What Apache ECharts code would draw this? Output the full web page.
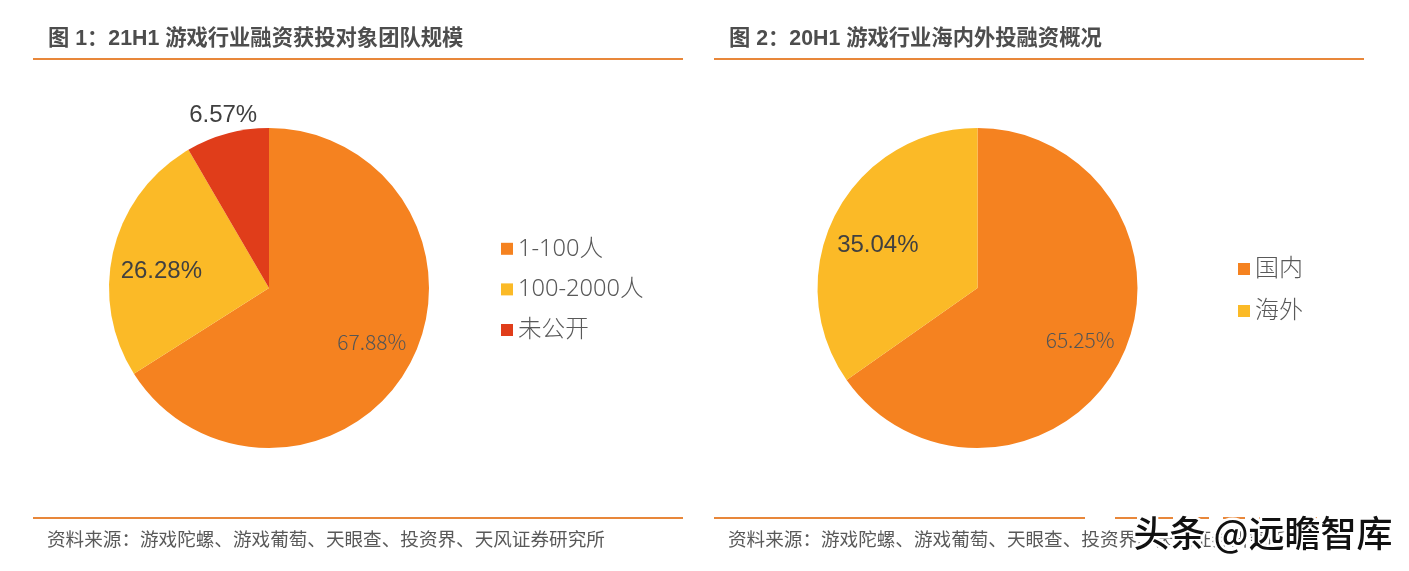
<!DOCTYPE html>
<html>
<head>
<meta charset="utf-8">
<style>
html,body{margin:0;padding:0;background:#fff}
#main{width:1409px;height:571px}
</style>
<script src="https://cdn.jsdelivr.net/npm/echarts@6/dist/echarts.min.js"></script>
</head>
<body>
<div id="main"></div>
<script>
// 图1 扇区大小按图上实际角度读取，标签是图上印的文字（两者并不完全一致）
var names1 = ['1-100人','100-2000人','未公开']
var values1 = [66.0,25.6,8.4]
var labels1 = ['67.88%','26.28%','6.57%']
var names2 = ['国内','海外']
var values2 = [65.25,34.75]
var labels2 = ['65.25%','35.04%']
var titles = ['图 1：21H1 游戏行业融资获投对象团队规模','图 2：20H1 游戏行业海内外投融资概况']
var source = '资料来源：游戏陀螺、游戏葡萄、天眼查、投资界、天风证券研究所'
var watermark = '头条 @远瞻智库'

var ORANGE='#F58220',YELLOW='#FBBA27',RED='#E03D1A',RULE='#E8873A'
var FONT='"Liberation Sans","Noto Sans CJK SC",sans-serif'
var LEGENDFONT='"Noto Sans CJK SC",sans-serif'

var darkLabel={fontSize:24,color:'#404040',fontFamily:FONT}
var greyLabel={fontSize:21,color:'#555',fontFamily:LEGENDFONT,fontWeight:300}

const makeData=(names,values,labels,colors,styles)=>names.map((n,i)=>({
    name:n,value:values[i],
    itemStyle:{color:colors[i]},
    label:Object.assign({formatter:labels[i]},styles[i])
}))

const makePie=(center,data,offsets)=>({
    type:'pie',center:center,radius:[0,160],startAngle:90,clockwise:true,
    silent:true,animation:false,avoidLabelOverlap:false,
    label:{show:true},labelLine:{show:false,length:8,length2:0},
    labelLayout:p=>{
        var o=offsets[p.dataIndex]
        return {dx:o[0],dy:o[1]}
    },
    data:data
})

const makeLegend=(names,left,top,gap,size)=>({
    data:names,left:left,top:top,orient:'vertical',itemGap:gap,
    icon:'rect',itemWidth:12,itemHeight:12,selectedMode:false,
    textStyle:{fontSize:size,color:'#595959',fontFamily:'"Noto Sans","Noto Sans CJK SC",sans-serif',fontWeight:300,padding:[0,0,0,0]}
})

const ruleLine=(x1,x2,y,dashed)=>({
    type:'line',shape:{x1:x1,y1:y,x2:x2,y2:y},
    style:{stroke:RULE,lineWidth:2,lineDash:dashed?[22,14]:null}
})

var titleStyle={fontSize:21.3,fontWeight:'bold',color:'#4d4d4d',fontFamily:FONT}
var sourceStyle={fontSize:18.6,fontWeight:'normal',color:'#595959',fontFamily:LEGENDFONT}

var chart=echarts.init(document.getElementById('main'))
chart.setOption({
    backgroundColor:'#fff',
    animation:false,
    title:[
        {text:titles[0],left:43,top:23,textStyle:titleStyle},
        {text:titles[1],left:724,top:23,textStyle:titleStyle},
        {text:source,left:42,top:525,textStyle:sourceStyle},
        {text:source,left:723,top:525,textStyle:sourceStyle}
    ],
    legend:[
        makeLegend(names1,496,232,17,23.6),
        makeLegend(names2,1233,252,18,24)
    ],
    series:[
        makePie([269,288],makeData(names1,values1,labels1,[ORANGE,YELLOW,RED],
            [Object.assign({position:'inside'},greyLabel),Object.assign({position:'inside'},darkLabel),Object.assign({position:'outside'},darkLabel)]),
            [[30,14],[-27,3],[37,-10]]),
        makePie([977.5,288],makeData(names2,values2,labels2,[ORANGE,YELLOW],
            [Object.assign({position:'inside'},greyLabel),Object.assign({position:'inside'},darkLabel)]),
            [[29,14],[-26,-4]])
    ],
    graphic:[
        ruleLine(33,683,59),ruleLine(714,1364,59),
        ruleLine(33,683,518),ruleLine(714,1085,518),ruleLine(1115,1360,518,true),
        {type:'text',left:1131,top:513,z:100,style:{
            text:watermark,fontSize:36,fontWeight:500,fill:'#111',
            fontFamily:LEGENDFONT,stroke:'#fff',lineWidth:5
        }}
    ]
})
</script>
</body>
</html>
